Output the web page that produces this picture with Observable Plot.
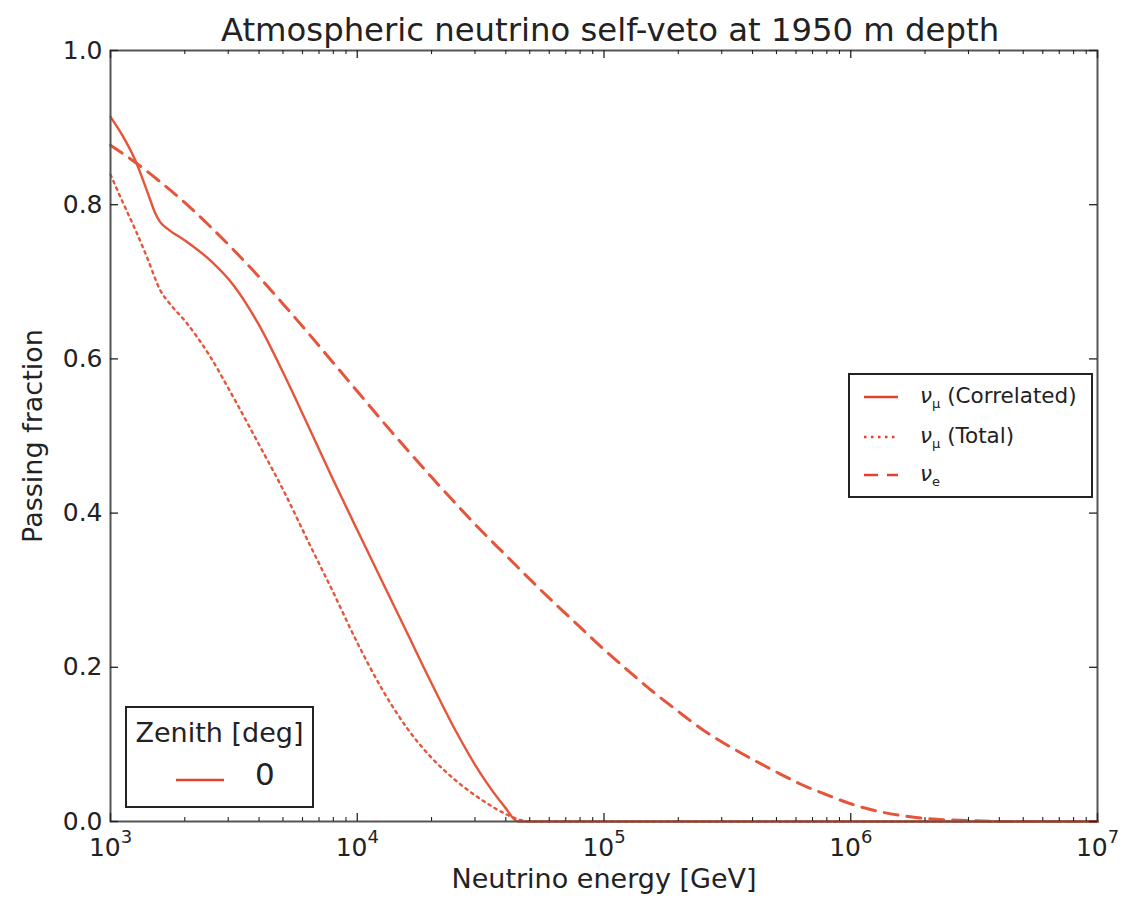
<!DOCTYPE html>
<html>
<head>
<meta charset="utf-8">
<script src="https://cdn.jsdelivr.net/npm/d3@7"></script>
<script src="https://cdn.jsdelivr.net/npm/@observablehq/plot@0.6"></script>
<style>
  html, body { margin: 0; padding: 0; background: white; }
  #wrap { position: relative; width: 1129px; height: 900px; font-family: "DejaVu Sans", sans-serif; color: #222; }
  #title { position: absolute; left: 110px; width: 1000px; top: 10px; text-align: center; font-size: 32.3px; line-height: 40px; color: #222; white-space: nowrap; }
  .legend { position: absolute; background: white; border: 2px solid #222; box-sizing: border-box; }
  .row { position: absolute; left: 0; height: 30px; display: flex; align-items: center; }
  .row svg { display: block; }
</style>
</head>
<body>
<div id="wrap">
  <div id="title">Atmospheric neutrino self-veto at 1950 m depth</div>
</div>
<script>
// ---- data (energy in GeV, passing fraction) ----
const corrEnergy = [1000, 1122, 1259, 1413, 1514, 1585, 1698, 1995, 2512, 3162, 3981, 5012, 6310, 7943, 10000, 12589, 15849, 19953, 25119, 31623, 39811, 44668, 10000000];
const corrFraction = [0.914, 0.889, 0.858, 0.816, 0.790, 0.778, 0.769, 0.754, 0.729, 0.695, 0.645, 0.582, 0.514, 0.445, 0.378, 0.312, 0.246, 0.180, 0.117, 0.062, 0.018, 0.000, 0.000];

const totalEnergy = [1000, 1122, 1259, 1413, 1585, 1778, 1995, 2512, 3162, 3981, 5012, 6310, 7943, 10000, 12589, 15849, 19953, 25119, 31623, 39811, 45709, 50119, 10000000];
const totalFraction = [0.839, 0.803, 0.768, 0.730, 0.690, 0.668, 0.650, 0.605, 0.549, 0.490, 0.430, 0.364, 0.299, 0.232, 0.172, 0.122, 0.083, 0.053, 0.029, 0.010, 0.002, 0.000, 0.000];

const nueEnergy = [1000, 1259, 1585, 1995, 2512, 3162, 3981, 5012, 6310, 7943, 10000, 12589, 15849, 19953, 25119, 31623, 39811, 50119, 63096, 79433, 100000, 125893, 158489, 199526, 251189, 316228, 398107, 501187, 630957, 794328, 1000000, 1258925, 1584893, 1995262, 2511886, 3162278, 3981072, 10000000];
const nueFraction = [0.877, 0.855, 0.830, 0.803, 0.773, 0.741, 0.707, 0.671, 0.634, 0.596, 0.558, 0.520, 0.483, 0.447, 0.412, 0.378, 0.346, 0.314, 0.283, 0.253, 0.223, 0.195, 0.168, 0.143, 0.119, 0.099, 0.081, 0.064, 0.048, 0.035, 0.023, 0.014, 0.008, 0.004, 0.002, 0.001, 0.000, 0.000];

const xTickValues = [1e3, 1e4, 1e5, 1e6, 1e7];
const xTickBase = "10";
const xTickExponents = ["3", "4", "5", "6", "7"];
const yTickValues = [0, 0.2, 0.4, 0.6, 0.8, 1.0];
const yTickLabels = ["0.0", "0.2", "0.4", "0.6", "0.8", "1.0"];

const seriesNames = ["νμ (Correlated)", "νμ (Total)", "νe"];

// ---- styles ----
const lineColor = "#e6553a";
const legendColor = "#e8402f";
const W = 1129, H = 900, mL = 110, mR = 32, mT = 50, mB = 79;
const frameW = W - mL - mR, frameH = H - mT - mB;
const majorLen = 8, minorLen = 4;

const toRows = (es, fs) => es.map((e, i) => ({energy: e, fraction: fs[i]}));
const corr = toRows(corrEnergy, corrFraction);
const total = toRows(totalEnergy, totalFraction);
const nue = toRows(nueEnergy, nueFraction);

const minorTicks = [];
for (let k = 3; k < 7; k++) for (let m = 2; m <= 9; m++) minorTicks.push(m * Math.pow(10, k));

const tickStroke = "#222";
const chart = Plot.plot({
  width: W, height: H,
  marginLeft: mL, marginRight: mR, marginTop: mT, marginBottom: mB,
  style: {fontFamily: "DejaVu Sans, sans-serif", background: "white", color: "#222"},
  x: {type: "log", domain: [1e3, 1e7]},
  y: {domain: [0, 1]},
  marks: [
    Plot.line(nue, {x: "energy", y: "fraction", stroke: lineColor, strokeWidth: 3, strokeDasharray: "14,9", curve: "monotone-x"}),
    Plot.line(total, {x: "energy", y: "fraction", stroke: lineColor, strokeWidth: 2.4, strokeDasharray: "2.5,4.5", curve: "monotone-x"}),
    Plot.line(corr, {x: "energy", y: "fraction", stroke: lineColor, strokeWidth: 2.4, curve: "monotone-x"}),
    Plot.frame({stroke: "#555", strokeWidth: 2}),
    // inward ticks
    Plot.tickX(xTickValues, {x: d => d, insetTop: frameH - majorLen, stroke: tickStroke, strokeWidth: 1.3}),
    Plot.tickX(xTickValues, {x: d => d, insetBottom: frameH - majorLen, stroke: tickStroke, strokeWidth: 1.3}),
    Plot.tickX(minorTicks, {x: d => d, insetTop: frameH - minorLen, stroke: tickStroke, strokeWidth: 1.1}),
    Plot.tickX(minorTicks, {x: d => d, insetBottom: frameH - minorLen, stroke: tickStroke, strokeWidth: 1.1}),
    Plot.tickY(yTickValues, {y: d => d, insetRight: frameW - majorLen, stroke: tickStroke, strokeWidth: 1.3}),
    Plot.tickY(yTickValues, {y: d => d, insetLeft: frameW - majorLen, stroke: tickStroke, strokeWidth: 1.3}),
    Plot.axisX({ticks: xTickValues, tickSize: 0, tickPadding: 17, fontSize: 25,
      tickFormat: d => xTickBase + "^" + xTickExponents[xTickValues.indexOf(d)], label: null}),
    Plot.axisY({ticks: yTickValues, tickSize: 0, tickPadding: 8, fontSize: 25,
      tickFormat: d => yTickLabels[yTickValues.findIndex(v => Math.abs(v - d) < 1e-9)], label: null}),
    Plot.text(["Neutrino energy [GeV]"], {frameAnchor: "bottom", dy: 66, fontSize: 27, fill: "#222"}),
    Plot.text(["Passing fraction"], {frameAnchor: "left", dx: -77, rotate: -90, textAnchor: "middle", fontSize: 27, fill: "#222"})
  ]
});
const wrap = document.getElementById("wrap");
wrap.insertBefore(chart, wrap.firstChild);

// turn "10^3" tick labels into 10 with a superscript exponent
d3.select(chart).selectAll('g[aria-label="x-axis tick label"] text').each(function() {
  const t = d3.select(this);
  const parts = t.text().split("^");
  t.text(null);
  t.append("tspan").text(parts[0]);
  t.append("tspan").attr("dy", "-13").attr("font-size", "18").text(parts[1]);
});

// ---- legends (HTML overlays) ----
function sample(len, dash, width, color) {
  return `<svg width="${len}" height="10"><line x1="0" x2="${len}" y1="5" y2="5" stroke="${color}" stroke-width="${width}" ${dash ? `stroke-dasharray="${dash}"` : ""}/></svg>`;
}
const lg = document.createElement("div");
lg.className = "legend";
Object.assign(lg.style, {left: "848px", top: "373px", width: "245px", height: "125px", fontSize: "21.5px"});
const labelsHtml = [
  `<i>ν</i><sub style="font-size:13px">μ</sub> (Correlated)`,
  `<i>ν</i><sub style="font-size:13px">μ</sub> (Total)`,
  `<i>ν</i><sub style="font-size:13px">e</sub>`
];
const dashes = [null, "2.5,4.5", "14,9"];
const rowTops = [7, 47, 85];
labelsHtml.forEach((h, i) => {
  const r = document.createElement("div");
  r.className = "row";
  r.style.top = rowTops[i] + "px";
  r.innerHTML = `<span style="margin-left:14px">${sample(34, dashes[i], 2.4, legendColor)}</span><span style="margin-left:22px;white-space:nowrap" title="${seriesNames[i]}">${h}</span>`;
  lg.appendChild(r);
});
wrap.appendChild(lg);

const zl = document.createElement("div");
zl.className = "legend";
Object.assign(zl.style, {left: "125px", top: "706px", width: "189px", height: "102px"});
zl.innerHTML = `<div style="position:absolute;left:0;width:100%;top:8px;text-align:center;font-size:27px;line-height:34px;white-space:nowrap">Zenith [deg]</div>
<div style="position:absolute;left:49px;top:62px">${sample(48, null, 2.4, legendColor)}</div>
<div style="position:absolute;left:128px;top:46px;font-size:31px;line-height:40px">0</div>`;
wrap.appendChild(zl);
</script>
</body>
</html>
